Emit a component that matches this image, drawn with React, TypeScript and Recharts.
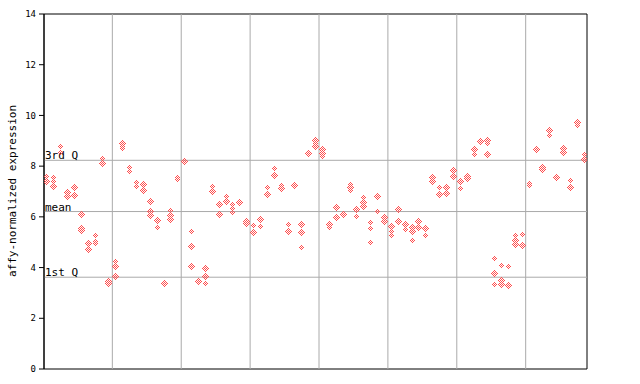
import React from 'react';
import { ScatterChart, Scatter, XAxis, YAxis, ReferenceLine, ReferenceArea } from 'recharts';

// replicate values per sample column (null = no replicate)
const rep1 = [7.61, 7.57, 8.78, 6.97, 7.17, 6.10, 4.96, 5.27, 8.31, 3.45,
  4.23, 8.91, 7.94, 7.35, 7.28, 6.60, 5.86, 3.36, 6.27, 7.54,
  8.20, 5.44, 3.50, 3.97, 7.19, 6.49, 6.80, 6.49, 6.62, 5.80,
  5.64, 5.91, 7.16, 7.91, 7.24, 5.68, 7.29, 5.70, 8.51, 9.02,
  8.64, 5.74, 6.38, 6.09, 7.28, 6.30, 6.76, 5.78, 6.86, 5.97,
  5.61, 6.29, 5.70, 5.59, 5.81, 5.53, 7.56, 7.16, 7.16, 7.81,
  7.41, 7.60, 8.64, 9.03, 9.03, 4.36, 4.10, 4.06, 5.26, 5.31,
  7.31, 8.66, 7.93, 9.42, 7.56, 8.70, 7.44, 9.77, 8.44];
const rep2 = [7.41, 7.39, 8.54, 6.80, 7.13, 5.55, 4.73, 5.02, 8.10, 3.38,
  4.03, 8.79, 7.80, 7.20, 7.24, 6.20, 5.82, 3.32, 6.07, 7.48,
  8.16, 4.85, 3.46, 3.65, 6.99, 6.14, 6.60, 6.33, 6.58, 5.72,
  5.39, 5.87, 6.92, 7.63, 7.12, 5.44, 7.25, 5.39, 8.47, 8.90,
  8.50, 5.70, 5.98, 6.05, 7.15, 6.03, 6.57, 5.54, 6.82, 5.86,
  5.42, 6.25, 5.50, 5.42, 5.57, 5.49, 7.41, 6.90, 6.92, 7.60,
  7.37, 7.50, 8.47, 8.96, 8.90, 3.75, 3.48, 3.28, 5.05, 4.89,
  7.24, 8.62, 7.87, 9.20, 7.52, 8.55, 7.17, 9.73, 8.29];
const rep3 = [null, 7.20, null, null, 6.86, 5.47, 4.69, 4.96, null, null,
  3.65, 8.70, null, null, 7.02, 6.07, 5.59, null, 5.90, null,
  null, 4.03, null, 3.39, null, 6.10, null, 6.18, null, null,
  null, 5.63, 6.88, 7.59, 7.08, 5.40, 7.21, 4.80, null, 8.76,
  8.37, 5.60, null, null, 7.02, null, 6.40, 5.00, 6.20, 5.82,
  5.26, 5.81, null, 5.05, null, 5.26, 7.37, null, 6.88, 7.56,
  7.12, null, null, 8.92, 8.47, 3.35, 3.34, null, 4.92, null,
  null, null, null, null, null, 8.51, 7.13, 9.62, 8.25];

const yTicks = [0, 2, 4, 6, 8, 10, 12, 14];
const groupBoundaries = [9.5, 19.5, 29.5, 39.5, 49.5, 59.5, 69.5];
const quartileLines = [
  { label: '3rd Q', value: 8.23 },
  { label: 'mean', value: 6.21 },
  { label: '1st Q', value: 3.62 },
];
const xDomain: [number, number] = [-0.42, 78.4];

const RED = '#ff4d4d';
const GRID = '#aaaaaa';
const MONO = 'DejaVu Sans Mono, monospace';

const points: { x: number; y: number }[] = [];
[rep1, rep2, rep3].forEach((rep) => {
  rep.forEach((v, i) => {
    if (v !== null && v !== undefined) points.push({ x: i, y: v as number });
  });
});

const Diamond = (props: any) => {
  const { cx, cy } = props;
  if (cx == null || cy == null) return null;
  const x = Math.floor(cx) + 0.5;
  const y = Math.floor(cy) + 0.5;
  const r = 3.5;
  return (
    <path
      d={`M${x},${y - r}L${x + r},${y}L${x},${y + r}L${x - r},${y}Z`}
      fill="url(#dith)"
      stroke="none"
      shapeRendering="crispEdges"
    />
  );
};

const QLabel = (text: string) => (props: any) => {
  const vb = props.viewBox || {};
  return (
    <text x={vb.x + 1} y={vb.y - 1} fontFamily={MONO} fontSize={11} fill="#000" textAnchor="start">
      {text}
    </text>
  );
};

export default function App() {
  return (
    <div style={{ position: 'absolute', left: 0, top: 0, width: 640, height: 384, background: '#fff' }}>
      <ScatterChart width={640} height={384} margin={{ top: 14, right: 53, bottom: 15, left: 0 }}>
        <defs>
          <pattern id="dith" x="0" y="0" width="2" height="2" patternUnits="userSpaceOnUse">
            <rect x="0" y="0" width="1" height="1" fill={RED} shapeRendering="crispEdges" />
            <rect x="1" y="1" width="1" height="1" fill={RED} shapeRendering="crispEdges" />
          </pattern>
        </defs>
        <XAxis type="number" dataKey="x" domain={xDomain} allowDataOverflow hide />
        <YAxis
          type="number"
          dataKey="y"
          domain={[0, 14]}
          ticks={yTicks}
          interval={0}
          width={44}
          tickSize={5}
          tickMargin={3}
          axisLine={{ stroke: '#000' }}
          tickLine={{ stroke: '#000' }}
          tick={{ fontFamily: MONO, fontSize: 9, fill: '#000' }}
          label={{
            content: () => (
              <text
                x={12}
                y={191}
                transform="rotate(-90, 12, 191)"
                textAnchor="middle"
                dominantBaseline="central"
                fontFamily={MONO}
                fontSize={11}
                fill="#000"
              >
                affy-normalized expression
              </text>
            ),
          }}
        />
        <YAxis
          yAxisId="r"
          orientation="right"
          mirror
          type="number"
          domain={[0, 14]}
          ticks={yTicks}
          interval={0}
          width={0}
          tickSize={5}
          axisLine={{ stroke: '#000' }}
          tickLine={{ stroke: '#000' }}
          tickFormatter={() => ''}
        />
        {groupBoundaries.map((b) => (
          <ReferenceLine key={'g' + b} x={b} stroke={GRID} strokeWidth={1} />
        ))}
        {quartileLines.map((q) => (
          <ReferenceLine key={q.label} y={q.value} stroke={GRID} strokeWidth={1} label={QLabel(q.label)} />
        ))}
        <ReferenceArea x1={xDomain[0]} x2={xDomain[1]} y1={0} y2={14} fill="none" stroke="#000" strokeWidth={1} ifOverflow="visible" />
        <Scatter data={points} shape={Diamond} isAnimationActive={false} />
      </ScatterChart>
    </div>
  );
}
